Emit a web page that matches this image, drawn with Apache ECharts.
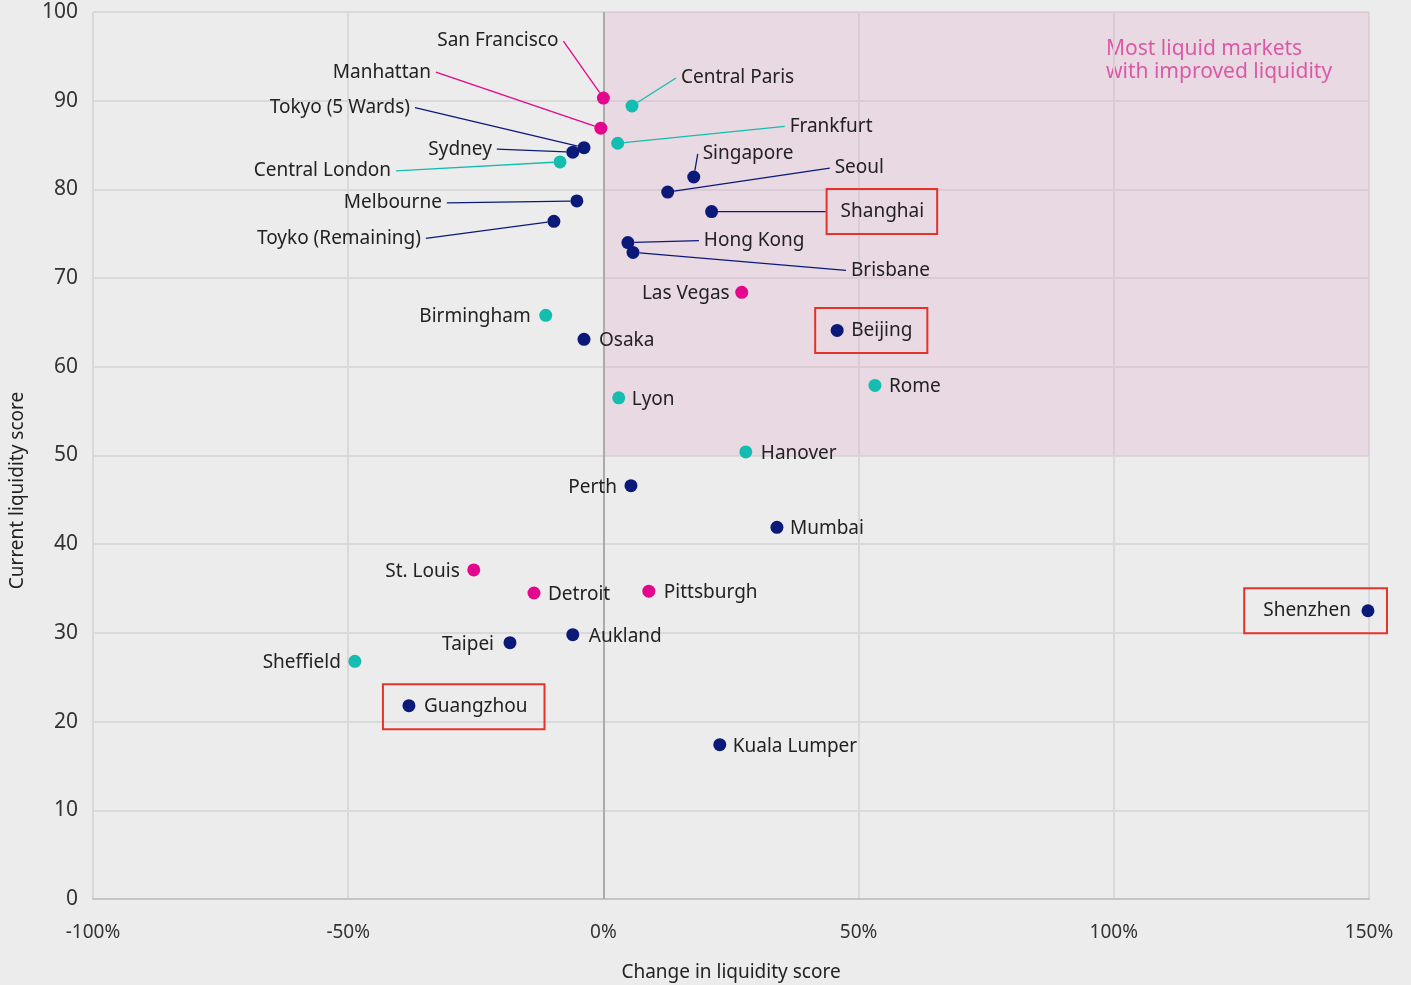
<!DOCTYPE html>
<html>
<head>
<meta charset="utf-8">
<title>Liquidity scores by market</title>
<script src="https://cdn.jsdelivr.net/npm/echarts@6/dist/echarts.min.js"></script>
<style>
  html, body { margin: 0; padding: 0; background: #ececec; }
  #chart { width: 1411px; height: 985px; }
</style>
</head>
<body>
<div id="chart"></div>
<script>
// Markets, change in liquidity score (%), current liquidity score, and region group
const cities = [
  'San Francisco', 'Manhattan', 'Central Paris', 'Frankfurt', 'Tokyo (5 Wards)',
  'Sydney', 'Central London', 'Singapore', 'Seoul', 'Melbourne',
  'Shanghai', 'Toyko (Remaining)', 'Hong Kong', 'Brisbane', 'Las Vegas',
  'Birmingham', 'Beijing', 'Osaka', 'Rome', 'Lyon',
  'Hanover', 'Perth', 'Mumbai', 'St. Louis', 'Detroit',
  'Pittsburgh', 'Shenzhen', 'Aukland', 'Taipei', 'Sheffield',
  'Guangzhou', 'Kuala Lumper'
];
const changes = [
  0.0, -0.5, 5.6, 2.8, -3.8,
  -6.0, -8.5, 17.7, 12.6, -5.2,
  21.2, -9.7, 4.8, 5.8, 27.1,
  -11.3, 45.8, -3.8, 53.2, 3.0,
  27.9, 5.4, 34.0, -25.4, -13.6,
  8.9, 149.8, -6.0, -18.3, -48.7,
  -38.1, 22.8
];
const scores = [
  90.3, 86.9, 89.4, 85.2, 84.7,
  84.2, 83.1, 81.4, 79.7, 78.7,
  77.5, 76.4, 74.0, 72.9, 68.4,
  65.8, 64.1, 63.1, 57.9, 56.5,
  50.4, 46.6, 41.9, 37.1, 34.5,
  34.7, 32.5, 29.8, 28.9, 26.8,
  21.8, 17.4
];
const regions = [
  'US', 'US', 'EU', 'EU', 'APAC',
  'APAC', 'EU', 'APAC', 'APAC', 'APAC',
  'APAC', 'APAC', 'APAC', 'APAC', 'US',
  'EU', 'APAC', 'APAC', 'EU', 'EU',
  'EU', 'APAC', 'APAC', 'US', 'US',
  'US', 'APAC', 'APAC', 'APAC', 'EU',
  'APAC', 'APAC'
];
const xTicks = { min: -100, max: 150, interval: 50 };
const yTicks = { min: 0, max: 100, interval: 10 };

// Label placement relative to each dot: [dx, dy, align, leaderLine, boxPadding]
const labelPlacement = {
  'San Francisco':     [-40, -57, 'right', true],
  'Manhattan':         [-165, -56, 'right', true],
  'Central Paris':     [44, -28, 'left', true],
  'Frankfurt':         [167, -17, 'left', true],
  'Tokyo (5 Wards)':   [-169, -40, 'right', true],
  'Sydney':            [-76, -3, 'right', true],
  'Central London':    [-164, 9, 'right', true],
  'Singapore':         [4, -23, 'left', true],
  'Seoul':             [162, -24, 'left', true],
  'Melbourne':         [-130, 2, 'right', true],
  'Shanghai':          [115, 0, 'left', true, [13, 13, 13, 14]],
  'Toyko (Remaining)': [-128, 17, 'right', true],
  'Hong Kong':         [71, -2, 'left', true],
  'Brisbane':          [213, 18, 'left', true],
  'Las Vegas':         [-12, 1, 'right'],
  'Birmingham':        [-15, 1, 'right'],
  'Beijing':           [-22, 0, 'left', false, [13, 15, 13, 36]],
  'Osaka':             [15, 1, 'left'],
  'Rome':              [14, 1, 'left'],
  'Lyon':              [13, 2, 'left'],
  'Hanover':           [15, 2, 'left'],
  'Perth':             [-14, 2, 'right'],
  'Mumbai':            [13, 1, 'left'],
  'St. Louis':         [-14, 2, 'right'],
  'Detroit':           [14, 2, 'left'],
  'Pittsburgh':        [15, 1, 'left'],
  'Shenzhen':          [19, 0, 'right', false, [13, 36, 13, 19]],
  'Aukland':           [16, 2, 'left'],
  'Taipei':            [-16, 2, 'right'],
  'Sheffield':         [-14, 1, 'right'],
  'Guangzhou':         [-26, 1, 'left', false, [13, 17, 13, 41]],
  'Kuala Lumper':      [13, 2, 'left']
};

const regionColors = { APAC: '#0b1a78', EU: '#14bdb0', US: '#e4068c' };
const FONT = 'Noto Sans';

// Leader-lined labels get a space on the side facing the dot so the line stops short of the text
function labelText(name) {
  const place = labelPlacement[name];
  if (place && place[3] && !place[4]) {
    return place[2] === 'right' ? name + ' ' : ' ' + name;
  }
  return name;
}

function buildSeries(region) {
  const data = [];
  cities.forEach((name, i) => {
    if (regions[i] !== region) return;
    const place = labelPlacement[name];
    const item = { name, value: [changes[i], scores[i]] };
    if (place[4]) {
      item.label = { padding: place[4], borderColor: '#e6332a', borderWidth: 2 };
    }
    if (place[3]) {
      item.labelLine = { show: true };
    }
    data.push(item);
  });
  return {
    type: 'scatter',
    name: region,
    symbol: 'circle',
    symbolSize: 13,
    itemStyle: { color: regionColors[region], opacity: 1 },
    data,
    label: {
      show: true,
      formatter: p => labelText(p.name),
      color: '#222',
      fontFamily: FONT,
      fontSize: 19,
      padding: 0
    },
    labelLine: {
      show: false,
      length2: 0,
      lineStyle: { color: regionColors[region], width: 1.3 }
    },
    labelLayout: function (p) {
      const place = labelPlacement[p.text.trim()] || [14, 0, 'left'];
      return {
        x: p.rect.x + p.rect.width / 2 + place[0],
        y: p.rect.y + p.rect.height / 2 + place[1],
        align: place[2],
        verticalAlign: 'middle',
        hideOverlap: false
      };
    },
    emphasis: { disabled: true },
    z: 5
  };
}

const series = ['EU', 'US', 'APAC'].map(buildSeries);

// Shaded quadrant and the 0% reference line
series.push({
  type: 'scatter',
  name: 'quadrant',
  data: [],
  silent: true,
  markArea: {
    silent: true,
    itemStyle: { color: 'rgba(226, 170, 204, 0.28)' },
    data: [[{ coord: [0, 50] }, { coord: [150, 100] }]]
  },
  markLine: {
    silent: true,
    symbol: 'none',
    label: { show: false },
    lineStyle: { color: '#ababab', width: 2, type: 'solid' },
    data: [{ xAxis: 0 }]
  },
  z: 2
});

const chart = echarts.init(document.getElementById('chart'));
chart.setOption({
  backgroundColor: '#ececec',
  animation: false,
  grid: { left: 93, right: 42, top: 12, bottom: 86, containLabel: false, outerBoundsMode: 'none' },
  xAxis: {
    type: 'value',
    min: xTicks.min, max: xTicks.max, interval: xTicks.interval,
    name: 'Change in liquidity score',
    nameLocation: 'middle',
    nameGap: 64,
    nameTextStyle: { color: '#222', fontFamily: FONT, fontSize: 19 },
    axisLine: { show: true, lineStyle: { color: '#c4c4c4', width: 2 } },
    axisTick: { show: false },
    axisLabel: {
      color: '#333', fontFamily: FONT, fontSize: 19, margin: 24,
      formatter: v => v + '%'
    },
    splitLine: { show: true, lineStyle: { color: '#d9d9d9', width: 2 } }
  },
  yAxis: {
    type: 'value',
    min: yTicks.min, max: yTicks.max, interval: yTicks.interval,
    name: 'Current liquidity score',
    nameLocation: 'middle',
    nameGap: 66,
    nameTextStyle: { color: '#222', fontFamily: FONT, fontSize: 19, padding: [0, 70, 0, 0] },
    axisLine: { show: false },
    axisTick: { show: false },
    axisLabel: { color: '#333', fontFamily: FONT, fontSize: 21, margin: 15 },
    splitLine: { show: true, lineStyle: { color: '#d9d9d9', width: 2 } }
  },
  graphic: [{
    type: 'text',
    left: 1106,
    top: 38,
    silent: true,
    style: {
      text: 'Most liquid markets\nwith improved liquidity',
      fill: '#d93a98',
      font: '21px "Noto Sans"',
      lineHeight: 23
    }
  }],
  series
});
</script>
</body>
</html>
